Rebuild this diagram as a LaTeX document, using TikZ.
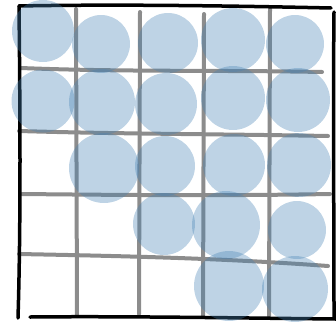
\documentclass[tikz,border=0pt]{standalone}
\usetikzlibrary{positioning}
\definecolor{disccol}{RGB}{70,130,180}
\definecolor{gridcol}{RGB}{140,140,140}
\begin{document}
\begin{tikzpicture}[
    x=1pt, y=-1pt,
    frame/.style={draw=black, line width=3.5pt, line cap=round},
    gridline/.style={draw=gridcol, line width=4pt, line cap=round},
    disc/.style={circle, fill=disccol, fill opacity=0.35, inner sep=0pt, minimum size=#1}
]
\useasboundingbox (0,0) rectangle (336,324);

% Corners of the frame
\coordinate (TL) at (19,6);
\coordinate (TR) at (331,8);
\coordinate (BL) at (18,318);
\coordinate (BR) at (336,319);

% Grid
\draw[gridline] (76,9) -- (77,316);
\draw[gridline] (140,12) -- (139,314);
\draw[gridline] (204,14) -- (203,316);
\draw[gridline] (270,9) -- (269,316);
\draw[gridline] (21,68) .. controls (120,72) and (220,70) .. (322,72);
\draw[gridline] (19,131) .. controls (120,134) and (220,134) .. (328,136);
\draw[gridline] (22,194) .. controls (120,195) and (220,196) .. (330,194);
\draw[gridline] (19,254) .. controls (120,256) and (220,258) .. (328,266);

% Frame
\draw[frame] (TL) .. controls (120,4) and (240,6) .. (TR);
\draw[frame] (TL) .. controls (20,100) and (21,220) .. (BL);
\draw[frame] (30,317) .. controls (120,316) and (240,318) .. (BR);
\draw[frame] (334,12) .. controls (333,100) and (334,220) .. (334,318);

% Row 1
\node[disc=62pt] (c11) at (43,31) {};
\node[disc=58pt] (c12) at (101,44) {};
\node[disc=60pt] (c13) at (168,43) {};
\node[disc=64pt] (c14) at (233,40) {};
\node[disc=58pt] (c15) at (295,44) {};

% Row 2
\node[disc=63pt] (c21) at (43,101) {};
\node[disc=66pt] (c22) at (102,102) {};
\node[disc=62pt] (c23) at (166,104) {};
\node[disc=64pt] (c24) at (233,98) {};
\node[disc=64pt] (c25) at (298,100) {};

% Row 3
\node[disc=70pt] (c32) at (104,168) {};
\node[disc=60pt] (c33) at (165,166) {};
\node[disc=62pt] (c34) at (234,165) {};
\node[disc=64pt] (c35) at (299,165) {};

% Row 4
\node[disc=62pt] (c43) at (164,224) {};
\node[disc=68pt] (c44) at (226,225) {};
\node[disc=58pt] (c45) at (297,230) {};

% Row 5
\node[disc=70pt] (c54) at (229,286) {};
\node[disc=66pt] (c55) at (295,289) {};

\end{tikzpicture}
\end{document}
